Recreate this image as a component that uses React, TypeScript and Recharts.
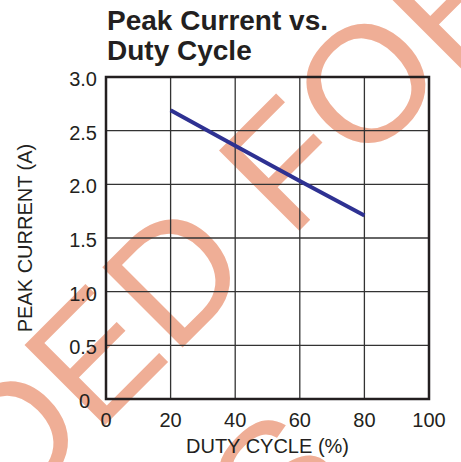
import { LineChart, Line, XAxis, YAxis, CartesianGrid, ReferenceArea } from "recharts";

const dutyCycle = [20, 40, 60, 80];
const peakCurrent = [2.69, 2.36, 2.03, 1.71];
const xTicks = [0, 20, 40, 60, 80, 100];
const yTicks = [0, 0.5, 1.0, 1.5, 2.0, 2.5, 3.0];

const data = dutyCycle.map((d, i) => ({ duty: d, current: peakCurrent[i] }));

const INK = "#231f20";
const FONT = '"Liberation Sans", Arial, Helvetica, sans-serif';
const STAMP = "#efae96";

function YTick(props: any) {
  const { x, y, payload } = props;
  const v = payload.value as number;
  const zero = v === 0;
  return (
    <text x={x - (zero ? 7 : 0)} y={y} dy={9} textAnchor="end" fontSize={20} fill={INK} fontFamily={FONT}>
      {zero ? "0" : v.toFixed(1)}
    </text>
  );
}

// obsolete-part stamp sitting behind the plot
function Stamp() {
  return (
    <g transform="translate(173 357) rotate(-45)" fill={STAMP} fontFamily={FONT} fontSize={165}>
      <text x={0} y={0} textAnchor="end">NOT RECOMMENDE</text>
      <text x={0} y={0}>D FOR</text>
      <text x={-545} y={217} textAnchor="middle">NEW DESIGNS</text>
    </g>
  );
}

export default function App() {
  return (
    <div style={{ position: "absolute", left: 0, top: 0, width: 461, height: 462, background: "#fff", overflow: "hidden" }}>
      <svg width={461} height={462} style={{ position: "absolute", left: 0, top: 0 }}>
        <Stamp />
        <g fontFamily={FONT} fontWeight="bold" fontSize={28} fill={INK}>
          <text x={107} y={29.5}>Peak Current vs.</text>
          <text x={107} y={59.5}>Duty Cycle</text>
        </g>
      </svg>
      <div style={{ position: "absolute", left: 0, top: 0 }}>
        <LineChart width={461} height={462} data={data} margin={{ top: 77, right: 32, bottom: 0, left: 0 }}>
          <CartesianGrid stroke="#333" strokeWidth={1.3} />
          <XAxis
            dataKey="duty"
            type="number"
            domain={[0, 100]}
            ticks={xTicks}
            height={63}
            tickLine={false}
            axisLine={false}
            tickMargin={8}
            tick={{ fontSize: 20, fill: INK, fontFamily: FONT }}
            label={{
              content: (p: any) => {
                const vb = p.viewBox;
                return (
                  <text x={vb.x + vb.width / 2} y={453} textAnchor="middle" fontSize={20} fill={INK} fontFamily={FONT}>
                    DUTY CYCLE (%)
                  </text>
                );
              },
            }}
          />
          <YAxis
            type="number"
            domain={[0, 3]}
            ticks={yTicks}
            width={106}
            tickLine={false}
            axisLine={false}
            tickMargin={3}
            tick={<YTick />}
            label={{
              content: (p: any) => {
                const vb = p.viewBox;
                const cy = vb.y + vb.height / 2;
                return (
                  <text x={32} y={cy} transform={`rotate(-90 32 ${cy})`} textAnchor="middle" fontSize={20} fill={INK} fontFamily={FONT}>
                    PEAK CURRENT (A)
                  </text>
                );
              },
            }}
          />
          <ReferenceArea x1={0} x2={100} y1={0} y2={3} fill="none" stroke={INK} strokeWidth={2.5} />
          <Line
            dataKey="current"
            type="linear"
            stroke="#2e3192"
            strokeWidth={4}
            dot={false}
            isAnimationActive={false}
          />
        </LineChart>
      </div>
    </div>
  );
}
